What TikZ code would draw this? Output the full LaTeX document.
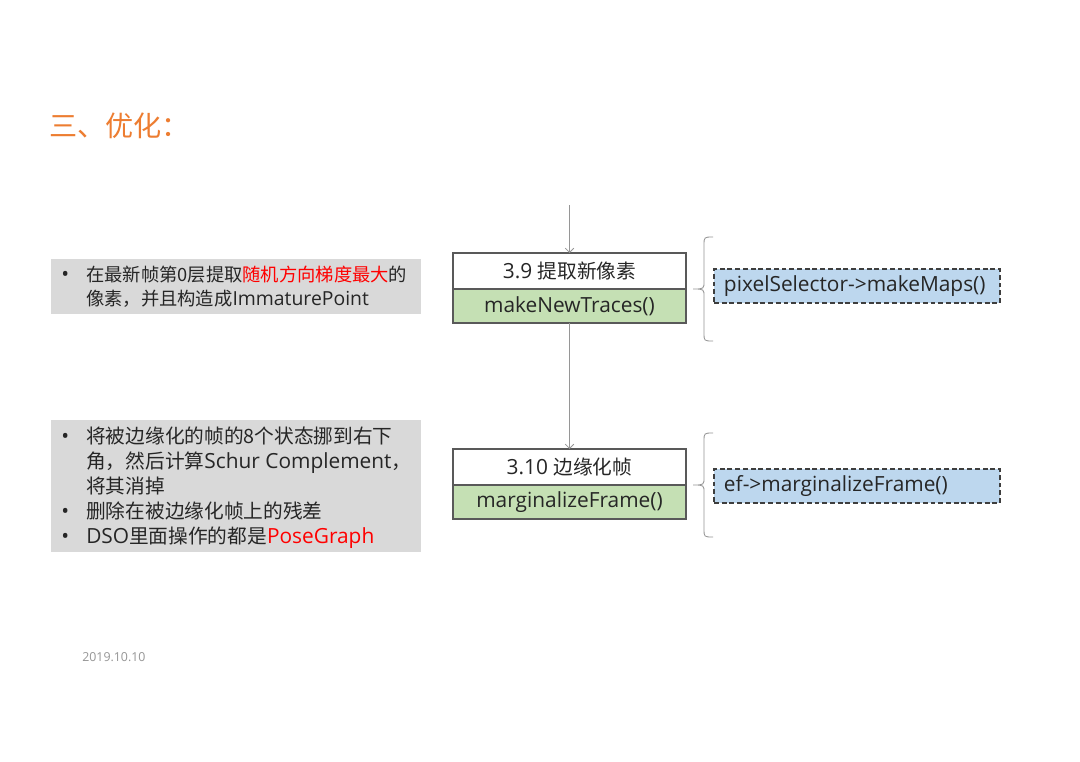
\documentclass[tikz,border=0pt]{standalone}
\usepackage{fontspec}
\setmainfont{Open Sans}[Scale=1.06]
\newfontfamily\zhfont{Noto Sans CJK SC}
\newcommand\zh[1]{{\zhfont #1}}
\usetikzlibrary{arrows.meta, positioning}
\definecolor{TitleOrange}{RGB}{237,125,49}
\definecolor{NoteGray}{RGB}{217,217,217}
\definecolor{FuncGreen}{RGB}{197,224,180}
\definecolor{CodeBlue}{RGB}{189,215,238}
\definecolor{EdgeGray}{RGB}{89,89,89}
\definecolor{LineGray}{RGB}{150,150,150}
\definecolor{TextDark}{RGB}{38,38,38}
\definecolor{HiRed}{RGB}{255,0,0}

\tikzset{
  notebox/.style={fill=NoteGray, anchor=north west, minimum width=9.25cm, inner sep=0pt},
  notetext/.style={anchor=west, inner sep=0pt, text height=11pt, text depth=2pt, text=TextDark, font=\fontsize{14}{17}\selectfont},
  smallnote/.style={notetext, font=\fontsize{13}{16}\selectfont},
  stagebox/.style={draw=EdgeGray, line width=0.8pt, fill=white, minimum width=5.825cm, minimum height=0.9cm, outer sep=0pt, inner sep=0pt, text=TextDark, font=\fontsize{14}{17}\selectfont},
  funcbox/.style={stagebox, fill=FuncGreen, minimum height=0.85cm},
  codebox/.style={draw=EdgeGray!70!black, dash pattern=on 3.5pt off 2pt, line width=1pt, fill=CodeBlue, minimum height=0.85cm, text width=6.65cm, inner xsep=0.25cm, align=left, text=TextDark, font=\fontsize{14}{17}\selectfont},
  flow/.style={draw=LineGray, line width=0.6pt, -{Straight Barb[length=3pt,width=6pt]}},
  bracket/.style={draw=LineGray, line width=0.6pt},
}

\begin{document}
\begin{tikzpicture}[x=0.025cm, y=-0.025cm]
  \fill[white] (0,0) rectangle (1080,762);
  \useasboundingbox (0,0) rectangle (1080,762);

  \node[anchor=west, inner sep=0pt, text=TitleOrange, font=\fontsize{20}{24}\selectfont\zhfont] (title) at (49,126) {三、优化：};

  % notes on the left
  \node[notebox, minimum height=1.375cm] (note1) at (51,259) {};
  \node[notebox, minimum height=3.3cm] (note2) at (51,420) {};
  \foreach \txt/\y [count=\i] in {%
      {\zh{在最新帧第0层提取\textcolor{HiRed}{随机方向梯度最大}的}}/275,
      {\zh{像素，并且构造成}ImmaturePoint}/299}
    \node[smallnote] (ta\i) at (86,\y) {\txt};
  \foreach \txt/\y [count=\i] in {%
      {\zh{将被边缘化的帧的8个状态挪到右下}}/437,
      {\zh{角，然后计算}Schur Complement\zh{，}}/462,
      {\zh{将其消掉}}/487,
      {\zh{删除在被边缘化帧上的残差}}/512,
      {DSO\zh{里面操作的都是}\textcolor{HiRed}{PoseGraph}}/537}
    \node[notetext] (tb\i) at (86,\y) {\txt};
  \foreach \y [count=\i] in {275,437,512,537}
    \node[notetext] (dot\i) at (61,\y) {•};

  % pipeline
  \coordinate (src) at (569.5,205);
  \node[stagebox] (s9) at (569.5,271) {3.9 \zh{提取新像素}};
  \node[funcbox, below=0pt of s9] (f9) {makeNewTraces()};
  \node[stagebox] (s10) at (569.5,467) {3.10 \zh{边缘化帧}};
  \node[funcbox, below=0pt of s10] (f10) {marginalizeFrame()};
  \draw[flow] (src) -- (s9);
  \draw[flow] (f9) -- (s10);

  % calls
  \node[codebox] (c9) at (857,286) {pixelSelector->makeMaps()};
  \node[codebox] (c10) at (857,486) {ef->marginalizeFrame()};
  \coordinate[right=0.175cm of f9.north east] (b9);
  \coordinate[right=0.175cm of f10.north east] (b10);
  \foreach \b in {b9,b10}
    \draw[bracket, shift={(\b)}] (20,-52) .. controls (11,-52) .. (11,-44) -- (11,-8)
      .. controls (11,0) .. (0,0) .. controls (11,0) .. (11,8) -- (11,44)
      .. controls (11,52) .. (20,52);

  \node[anchor=west, inner sep=0pt, text=LineGray, font=\fontsize{8.3}{10}\selectfont] (date) at (82,657) {2019.10.10};
\end{tikzpicture}
\end{document}
